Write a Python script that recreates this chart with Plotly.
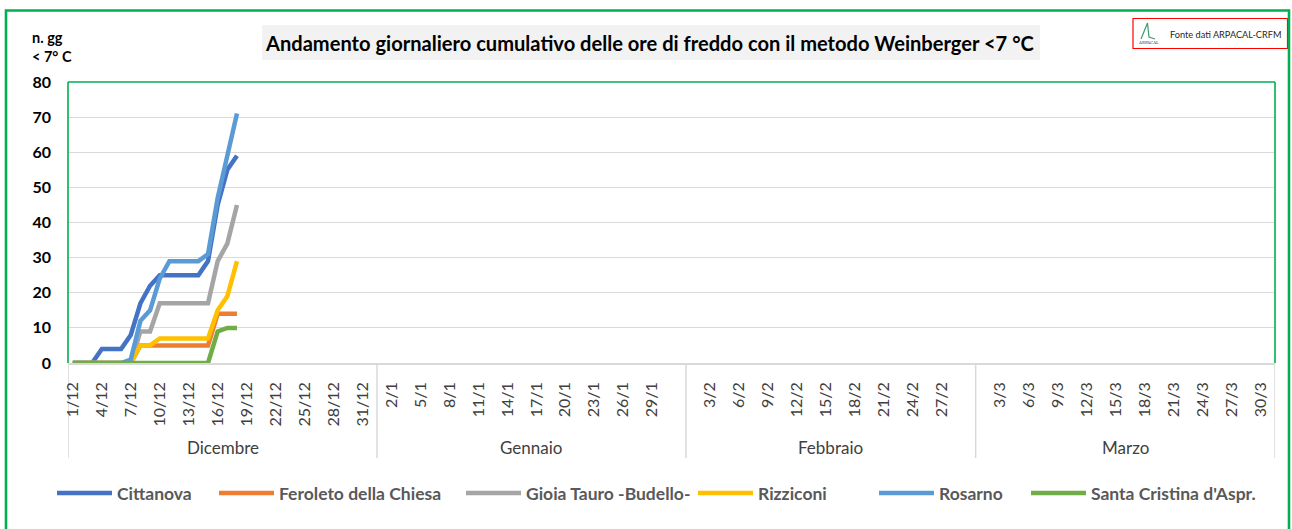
import plotly.graph_objects as go

# ---------------- data ----------------
months = ["Dicembre", "Gennaio", "Febbraio", "Marzo"]
month_numbers = [12, 1, 2, 3]
month_days = [31, 31, 29, 31]
month_blank_slots = [1, 1, 1, 0]   # empty category slot after each month
label_step = 3

stations = ["Cittanova", "Feroleto della Chiesa", "Gioia Tauro -Budello-",
            "Rizziconi", "Rosarno", "Santa Cristina d'Aspr."]

# cumulative days < 7 °C, from 1/12 to 18/12
cittanova = [0, 0, 0, 4, 4, 4, 8, 17, 22, 25, 25, 25, 25, 25, 29, 45, 55, 59]
feroleto = [0, 0, 0, 0, 0, 0, 0, 5, 5, 5, 5, 5, 5, 5, 5, 14, 14, 14]
gioia_tauro = [0, 0, 0, 0, 0, 0, 0, 9, 9, 17, 17, 17, 17, 17, 17, 29, 34, 45]
rizziconi = [0, 0, 0, 0, 0, 0, 0, 5, 5, 7, 7, 7, 7, 7, 7, 15, 19, 29]
rosarno = [0, 0, 0, 0, 0, 0, 1, 12, 15, 24, 29, 29, 29, 29, 31, 47, 59, 71]
santa_cristina = [0, 0, 0, 0, 0, 0, 0, 0, 0, 0, 0, 0, 0, 0, 0, 9, 10, 10]

series = [cittanova, feroleto, gioia_tauro, rizziconi, rosarno, santa_cristina]
colors = ["#4472C4", "#ED7D31", "#A5A5A5", "#FFC000", "#5B9BD5", "#70AD47"]

title_text = "Andamento giornaliero cumulativo delle ore di freddo con il metodo Weinberger <7 °C"
yaxis_label = "n. gg<br>< 7° C"
source_text = "Fonte dati ARPACAL-CRFM"

# ---------------- category slots ----------------
slots = []
month_spans = []
for name, num, nd, nb in zip(months, month_numbers, month_days, month_blank_slots):
    start = len(slots)
    for d in range(1, nd + 1):
        slots.append(f"{d}/{num}")
    slots.extend([""] * nb)
    month_spans.append((start - 0.5, len(slots) - 0.5))

tickvals = [i for i in range(0, len(slots), label_step) if slots[i]]
ticktext = [slots[i] for i in tickvals]

# ---------------- layout helpers ----------------
W, H = 1292, 529
ML, MR, MT, MB = 68, 17, 82, 166
PW, PH = W - ML - MR, H - MT - MB


def px_x(px):
    return (px - ML) / PW


def px_y(py):
    return (H - MB - py) / PH


FONT = "Lato, 'Open Sans', sans-serif"

fig = go.Figure()
legend_px = [52, 214, 461, 693, 874, 1026]
for k, (name, vals, col) in enumerate(zip(stations, series, colors)):
    xs = [slots.index(f"{d}/12") for d in range(1, len(vals) + 1)]
    lg = "legend" if k == 0 else f"legend{k + 1}"
    fig.add_trace(go.Scatter(x=xs, y=vals, mode="lines", name=name,
                             line=dict(color=col, width=4.5),
                             legend=lg, hoverinfo="skip"))

legend_common = dict(orientation="h", yanchor="middle", xanchor="left",
                     y=px_y(493), bgcolor="rgba(0,0,0,0)", itemwidth=55,
                     font=dict(family=FONT, size=17.5, color="#595959", weight="bold"))
layout_legends = {}
for k, lp in enumerate(legend_px):
    key = "legend" if k == 0 else f"legend{k + 1}"
    layout_legends[key] = dict(x=px_x(lp), **legend_common)

shapes = []
# outer chart border
shapes.append(dict(type="rect", xref="paper", yref="paper",
                   x0=px_x(6), x1=px_x(1289), y0=px_y(535), y1=px_y(10.5),
                   line=dict(color="#00B050", width=2.6), layer="above"))
# title box
shapes.append(dict(type="rect", xref="paper", yref="paper",
                   x0=px_x(262), x1=px_x(1040), y0=px_y(60), y1=px_y(25),
                   fillcolor="#F2F2F2", line=dict(width=0), layer="below"))
# source box
shapes.append(dict(type="rect", xref="paper", yref="paper",
                   x0=px_x(1133), x1=px_x(1287.5), y0=px_y(48.5), y1=px_y(18.5),
                   fillcolor="white", line=dict(color="#FF0000", width=1.2), layer="below"))
# tiny logo glyph
shapes.append(dict(type="path", xref="paper", yref="paper",
                   path=(f"M {px_x(1141)} {px_y(39)} L {px_x(1147.5)} {px_y(23)} "
                         f"L {px_x(1149)} {px_y(37)} L {px_x(1155)} {px_y(39)}"),
                   line=dict(color="#3C9D6E", width=1.2), layer="above"))
# plot area green border (left, top, right)
for (x0, y0, x1, y1) in [(0, 0, 0, 1), (0, 1, 1, 1), (1, 0, 1, 1)]:
    shapes.append(dict(type="line", xref="paper", yref="paper", x0=x0, x1=x1, y0=y0, y1=y1,
                       line=dict(color="#00B050", width=1.6), layer="above"))
# month group dividers
bounds = sorted(set([s for span in month_spans for s in span]))
for b in bounds:
    shapes.append(dict(type="line", xref="x", yref="paper", x0=b, x1=b,
                       y0=0, y1=px_y(458), line=dict(color="#D9D9D9", width=1.5),
                       layer="below"))

annotations = []
annotations.append(dict(text=f"<b>{title_text}</b>", xref="paper", yref="paper",
                        x=px_x(649), y=px_y(43), showarrow=False,
                        xanchor="center", yanchor="middle",
                        font=dict(family=FONT, size=20.1, color="#000000")))
annotations.append(dict(text=f"<b>{yaxis_label}</b>", xref="paper", yref="paper",
                        x=px_x(30), y=px_y(47), showarrow=False, align="left",
                        xanchor="left", yanchor="middle",
                        font=dict(family=FONT, size=14.5, color="#000000")))
annotations.append(dict(text=source_text, xref="paper", yref="paper",
                        x=px_x(1168), y=px_y(34), showarrow=False,
                        xanchor="left", yanchor="middle",
                        font=dict(family=FONT, size=9.2, color="#262626")))
annotations.append(dict(text="ARPACAL", xref="paper", yref="paper",
                        x=px_x(1148), y=px_y(43), showarrow=False,
                        xanchor="center", yanchor="middle",
                        font=dict(family="DejaVu Serif", size=4, color="#1F3B7A")))
for name, (a, b) in zip(months, month_spans):
    annotations.append(dict(text=name, xref="x", yref="paper", x=(a + b) / 2,
                            y=px_y(447), showarrow=False, xanchor="center",
                            yanchor="middle",
                            font=dict(family=FONT, size=17, color="#404040")))

fig.update_layout(
    width=W, height=H,
    margin=dict(l=ML, r=MR, t=MT, b=MB),
    paper_bgcolor="white", plot_bgcolor="white",
    showlegend=True,
    shapes=shapes, annotations=annotations,
    xaxis=dict(range=[-0.5, len(slots) - 0.5], tickmode="array",
               tickvals=tickvals, ticktext=ticktext, tickangle=-90,
               showgrid=False, zeroline=False, showline=True,
               linecolor="#D9D9D9", linewidth=1.5, ticks="",
               ticklabelstandoff=11,
               tickfont=dict(family=FONT, size=16, color="#404040")),
    yaxis=dict(range=[0, 80], dtick=10, showgrid=True, gridcolor="#D9D9D9",
               gridwidth=1.3, zeroline=False, showline=False, ticks="",
               ticklabelstandoff=16,
               tickfont=dict(family=FONT, size=16, color="#000000", weight="bold")),
    **layout_legends,
)

fig.write_html("out.html", config={"displayModeBar": False},
               post_script="document.body.style.margin='0px';document.body.style.padding='0px';")
